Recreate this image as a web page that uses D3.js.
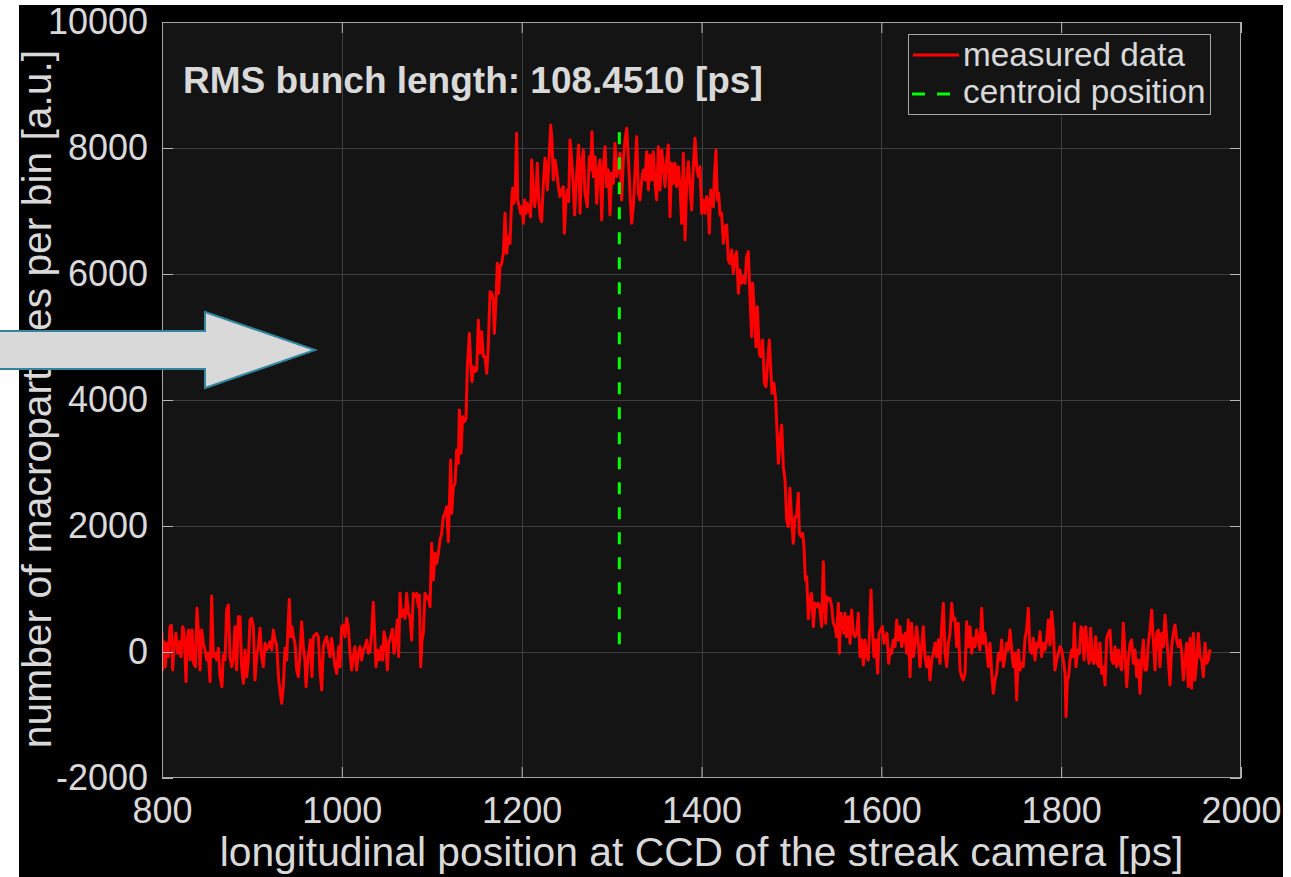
<!DOCTYPE html>
<html><head><meta charset="utf-8">
<script src="https://cdn.jsdelivr.net/npm/d3@7"></script>
<style>body{margin:0;background:#fff}svg{display:block}</style>
</head><body><svg id="c" width="1291" height="877"></svg>
<script>
// longitudinal position [ps]
const positionPs = [
800.0,800.7,802.2,803.7,805.2,807.0,808.9,810.4,811.9,813.3,815.6,817.4,819.3,821.1,823.0,824.5,826.7,828.2,829.7,831.5,
833.4,835.2,837.1,838.9,840.8,842.3,844.1,846.0,847.8,849.7,851.5,853.4,855.2,857.1,858.9,860.8,862.7,864.5,866.7,868.2,
870.1,871.9,873.8,875.6,877.5,879.3,881.2,883.0,884.9,886.8,888.6,890.5,892.3,894.2,896.0,897.9,899.7,901.6,903.4,905.3,
907.1,909.0,910.8,912.7,914.6,916.4,918.3,920.1,922.0,923.8,925.7,927.5,929.8,931.2,933.1,934.9,936.8,938.7,939.8,941.6,
943.1,944.6,946.1,947.9,949.8,951.6,953.5,955.3,957.2,959.0,960.2,961.6,963.1,965.0,966.8,968.3,970.2,972.0,973.9,975.7,
977.6,979.4,981.3,983.1,985.0,986.8,988.7,990.6,992.4,994.3,996.5,998.0,999.8,1001.7,1003.5,1005.4,1007.2,1009.1,1010.9,1012.8,
1014.6,1016.5,1018.4,1020.2,1022.1,1023.9,1025.8,1027.6,1029.5,1031.3,1033.2,1035.0,1036.1,1038.0,1039.5,1041.7,1043.6,1045.4,1046.9,1048.7,
1050.6,1052.1,1054.3,1056.2,1058.0,1059.9,1061.7,1063.2,
1064.7,1066.5,1068.4,1070.3,1072.1,1074.0,1075.8,1077.7,1079.5,1081.4,1083.2,1085.1,1086.2,1087.7,1089.2,1090.6,1092.5,1094.4,1096.2,1098.1,
1099.9,1101.8,1103.6,1105.5,1107.3,1109.2,1111.0,1112.9,1114.7,1116.6,1118.4,1119.6,1121.0,1122.2,1124.0,1125.9,1127.7,1129.6,1130.7,1132.5,
1134.4,1136.2,1138.1,
1139.6,1141.8,1143.3,1144.8,1146.2,1148.1,1150.0,1151.8,1153.7,1155.5,1157.4,1159.2,1161.1,1162.9,1164.8,1166.6,1168.5,1169.6,1171.5,1172.9,
1174.4,1175.9,1177.8,1179.6,1181.5,1183.3,1185.2,1187.0,1188.9,1190.0,1191.5,1192.6,1194.4,1195.6,1197.4,1198.9,1200.4,1201.9,1203.3,1204.8,
1206.3,1208.5,1210.0,1211.1,1213.0,1214.5,1215.9,1217.4,1218.9,1220.4,1222.2,1224.1,1226.0,1227.1,1228.5,1230.0,1232.3,1233.7,1235.2,1237.1,
1238.9,1240.8,1242.6,1244.5,1246.3,1247.5,1249.3,1250.8,1252.3,1253.8,1255.6,1257.5,1258.9,1261.2,1263.4,1264.9,1266.4,1268.6,1270.4,1273.0,
1275.3,1276.7,1278.2,1279.7,1281.6,1283.4,1285.3,1287.1,1289.0,1290.8,1292.7,1294.5,1296.4,1298.2,1300.1,1302.0,1303.8,1305.7,1309.4,1311.2,
1313.1,1314.9,1316.8,1318.6,1320.5,1322.3,1324.2,1326.0,1327.9,1329.8,1331.6,1333.5,1335.3,1337.2,1339.0,1340.9,1342.7,1344.6,1346.4,1348.3,
1350.1,1352.0,1353.9,1355.7,1357.6,1359.4,1361.3,1363.1,1365.0,1366.8,1368.7,1370.5,1372.4,1374.2,1376.1,1377.9,1379.8,1381.7,1383.5,1385.4,
1387.2,1389.1,1390.9,1392.8,1394.6,1396.5,1398.3,1400.2,1402.0,1403.9,1405.8,1407.6,1408.7,1410.2,1411.3,1413.2,1414.3,1416.1,1417.6,1419.1,
1420.6,1422.4,1424.3,1426.1,1428.0,1429.8,1431.7,1433.6,1435.4,1437.3,1439.1,1441.0,1442.8,1444.7,1446.5,1448.4,1450.2,1452.1,1453.9,1455.8,
1456.9,1458.4,1460.6,1462.1,1464.3,1465.8,1468.0,1469.9,1471.7,1473.2,1475.4,1476.9,1478.4,1480.6,1482.5,
1483.6,1485.5,1487.3,1489.2,1491.0,1492.9,1494.7,1496.6,1498.4,1500.3,1502.1,1504.0,1505.8,1507.7,1508.8,1510.7,1512.5,1514.0,1515.5,1517.0,
1518.8,1520.7,1522.5,1524.4,1526.2,1528.1,1529.9,1531.8,1533.6,1535.5,1536.6,1538.1,1539.2,1541.4,1542.9,1544.8,1546.6,1548.5,1550.3,1552.2,
1553.3,1555.1,1557.0,1558.5,1559.6,1561.4,1563.3,1565.2,1567.0,1568.9,1570.7,1572.6,1574.4,1576.3,1578.1,1580.0,1581.8,1583.7,1585.5,1587.4,
1588.5,1590.4,1591.8,1593.7,1595.9,1597.4,1599.3,1601.1,1603.0,1604.5,1606.3,1608.2,1609.6,1611.5,1613.3,1615.2,1617.1,1618.9,1620.8,1622.6,
1624.5,1626.3,1628.2,1630.0,1631.9,1633.7,1635.6,1637.4,1639.3,1641.2,1643.0,1644.9,1646.7,1648.6,1650.4,1652.3,1654.1,1656.0,1657.8,1659.7,
1661.5,1663.4,1665.2,
1667.1,1669.0,1670.8,1672.7,1674.5,1676.4,1678.2,1680.1,1681.9,1683.8,1685.6,1687.5,1689.3,1691.2,1693.1,1694.9,1696.8,1698.6,1700.5,1702.3,
1704.2,1706.0,1707.9,1709.7,1711.6,1713.4,1715.3,1717.2,1719.0,1720.9,1722.7,1724.6,1726.4,1728.3,1730.1,1732.0,1733.8,1735.7,1737.5,1739.4,
1741.2,1743.1,1745.0,1746.8,1748.7,1750.5,1752.4,1754.2,1756.1,1757.9,1759.8,1761.6,1763.5,1765.3,1767.2,1769.1,1770.9,1772.8,1774.6,1776.5,
1778.3,1780.2,1782.0,1783.9,1785.7,1787.6,1789.4,1791.3,1793.1,1795.0,1796.9,1798.7,1800.6,1802.4,1804.3,1805.4,1806.9,1808.3,1809.8,1811.7,
1813.5,1814.6,1816.5,1818.4,1820.2,1822.1,1823.9,1825.4,1827.2,1829.1,1831.0,1832.8,1834.7,1836.5,1838.4,1840.2,1842.1,1843.2,1845.0,1846.9,
1848.8,1850.6,1852.5,1854.3,1856.2,1858.0,1859.9,1861.7,1863.6,1865.4,1867.3,1869.1,1871.0,1872.9,1874.7,1876.6,1878.4,1880.3,1882.1,1884.0,
1885.8,1887.7,1889.5,1891.4,1893.2,1895.1,1896.9,1898.8,1900.7,1902.5,1904.4,1906.2,1908.1,1909.9,1911.8,1913.6,1915.5,1917.3,1919.2,1921.0,
1922.9,1924.7,1926.6,1928.5,1930.3,1932.2,1934.0,1935.9,1937.7,1939.6,1941.4,1943.3,1945.1,1947.0,1948.8,1950.7,1952.6,1954.4,1956.3,1958.1,
1960.0,1961.8,1963.7,1965.5
];
// number of macroparticles per bin [a.u.]
const counts = [
323,-286,164,-233,138,-74,402,428,-286,85,296,-21,164,-74,402,323,-471,190,349,-127,
349,-180,-233,693,243,-286,349,138,32,-127,-21,-471,889,-74,-21,-127,58,-392,-550,-48,
-127,667,746,-74,-233,-100,402,-286,561,561,-233,-497,32,-392,-127,508,534,402,-444,-74,
85,376,-74,-233,138,32,85,164,32,349,190,111,-444,-603,-815,-550,58,-127,296,836,
243,402,243,138,-286,-392,-21,481,85,-127,-550,-233,-21,190,-392,243,270,296,243,-286,
-603,85,190,243,85,-74,217,-21,-233,-339,85,-233,402,428,243,534,402,-21,-286,-74,
85,-286,-21,85,-127,32,85,190,-21,5,323,788,402,-233,32,-127,85,-127,323,190,
-286,138,243,360,-21,190,508,-74,
931,561,667,534,931,614,561,190,931,878,931,720,905,-233,190,296,931,852,878,720,
1725,1143,1566,1407,1566,1778,1884,2148,2201,2307,1751,2307,3048,2201,2624,2677,3206,2995,3841,3153,
3735,3656,3700,
4529,5058,4582,4291,4529,4450,4476,5270,4741,5085,4688,4688,4423,4847,5720,5693,5587,5058,5587,6169,
5693,6116,6169,6328,6963,6328,6593,6487,7175,7360,7122,7228,8233,7175,7069,6963,7069,6804,7175,6963,
7122,7016,6910,7810,7281,7069,7281,7757,7228,6910,6831,7439,7836,7704,7333,7704,8365,8127,7492,7810,
7651,7386,7228,7333,7386,6646,7175,7333,7148,8127,7810,7386,6937,7598,8048,6963,7704,7968,7281,7069,
7862,7651,8259,7545,7862,7122,7651,7810,6857,7704,8021,7386,7651,6937,7598,7439,8074,7545,7915,7175,
7810,8127,8312,7862,7281,6804,7069,7598,8180,7281,7175,7492,7651,7492,7942,7333,7889,7492,7942,7439,
7175,8021,7333,7968,7704,7386,7810,8048,6910,7757,7439,7757,7386,7704,7386,6804,7915,6540,7439,7783,
7386,7016,7704,8153,7704,7545,7704,6963,7175,6963,7228,7069,6646,7333,7175,7069,7545,7968,7175,7281,
6937,6963,6487,6752,6778,6222,6169,6381,6011,6275,6355,5693,6063,5852,5958,5852,6275,6355,5640,5005,
5852,5482,4847,5482,4741,4688,4952,4265,4212,4529,4952,4529,4106,4265,4000,
3630,2995,3365,3603,2942,2730,2095,1989,2598,2095,1725,2148,2148,2519,1884,1831,1884,1672,1143,1196,
529,825,931,402,773,720,773,667,402,1434,825,455,878,825,852,720,455,402,243,773,
-21,614,455,296,614,243,561,138,667,296,243,296,614,-74,190,-206,190,-74,-127,508,
984,296,-74,190,-339,296,349,402,138,243,296,-180,32,-21,190,85,508,190,402,85,
243,296,-21,508,-392,455,-74,138,402,138,-233,85,402,-74,-233,-74,-444,-127,-21,138,
-74,190,-180,
402,772,-21,-233,138,296,772,508,534,85,455,-286,-392,-444,-339,481,85,402,-21,217,
85,349,190,32,693,138,296,32,-233,138,-339,-656,-444,-339,-21,-127,190,-233,-74,138,
32,349,32,-233,-21,-762,32,-286,-180,-233,217,349,693,32,-21,217,-127,138,85,323,
-74,138,32,190,508,111,640,349,-286,-127,-21,85,32,-127,-339,-1026,-444,-392,-127,32,
-74,455,-233,32,-21,402,349,-127,402,85,-180,376,-127,-180,243,-180,-233,138,-339,-233,
-524,217,296,349,-127,-180,85,-233,32,-180,-286,455,-21,-550,-127,138,190,-180,32,-392,
-127,-656,-127,190,-286,-286,138,349,667,190,-286,296,349,-233,296,85,587,243,-127,-524,
85,296,428,190,85,190,5,-444,-127,138,-550,217,-576,296,-444,-127,296,-74,-127,-392,
138,-180,-127,42
];
const xTicks = [800, 1000, 1200, 1400, 1600, 1800, 2000];
const yTicks = [-2000, 0, 2000, 4000, 6000, 8000, 10000];
const xDomain = [800, 2000];
const yDomain = [-2000, 10000];
const centroidPs = 1308.6;
const centroidTop = 8250;
const titleText = "RMS bunch length: 108.4510 [ps]";
const legendLabels = ["measured data", "centroid position"];
const xLabel = "longitudinal position at CCD of the streak camera [ps]";
const yLabel = "number of macroparticles per bin [a.u.]";
// annotation arrow outline, in data units (ps, counts)
const arrowPs = [608.7, 847.8, 847.8, 970.2, 847.8, 847.8, 608.7];
const arrowCounts = [5095, 5095, 5397, 4794, 4190, 4492, 4492];

const svg = d3.select("#c");
const W = 1291, H = 877;
const L = 162, T = 22, PW = 1079, PH = 756;
const FONT = "'Liberation Sans', Arial, Helvetica, sans-serif";
const textCol = "#d9d9d9";

svg.append("rect").attr("x", 0).attr("y", 0).attr("width", W).attr("height", H).attr("fill", "#fff");
svg.append("rect").attr("x", 19).attr("y", 5).attr("width", 1264).attr("height", 872).attr("fill", "#000");

const x = d3.scaleLinear().domain(xDomain).range([L, L + PW]);
const y = d3.scaleLinear().domain(yDomain).range([T + PH, T]);

svg.append("rect").attr("x", L).attr("y", T).attr("width", PW).attr("height", PH).attr("fill", "#141414");

svg.append("defs").append("clipPath").attr("id", "clip")
  .append("rect").attr("x", L).attr("y", T).attr("width", PW).attr("height", PH);

// grid
const grid = svg.append("g").attr("stroke", "#3e3e3e").attr("stroke-width", 1);
grid.selectAll(".gx").data(xTicks.slice(1, -1)).join("line")
  .attr("x1", d => Math.round(x(d)) + 0.5).attr("x2", d => Math.round(x(d)) + 0.5)
  .attr("y1", T).attr("y2", T + PH);
grid.selectAll(".gy").data(yTicks.slice(1, -1)).join("line")
  .attr("y1", d => Math.round(y(d)) + 0.5).attr("y2", d => Math.round(y(d)) + 0.5)
  .attr("x1", L).attr("x2", L + PW);

// data
const pts = positionPs.map((p, i) => [p, counts[i]]);
const line = d3.line().x(d => x(d[0])).y(d => y(d[1]));
svg.append("path").datum(pts).attr("clip-path", "url(#clip)")
  .attr("d", line).attr("fill", "none").attr("stroke", "#ff0000")
  .attr("stroke-width", 3).attr("stroke-linejoin", "round");

// centroid
svg.append("line")
  .attr("x1", x(centroidPs)).attr("x2", x(centroidPs))
  .attr("y1", y(centroidTop)).attr("y2", y(0))
  .attr("stroke", "#00ff00").attr("stroke-width", 3).attr("stroke-dasharray", "12,13");

// axes (ticks inside)
const fmt = d => String(d);
function styleAxis(g) {
  g.select(".domain").remove();
  g.selectAll(".tick line").attr("stroke", "#b8b8b8").attr("stroke-width", 1);
  g.selectAll(".tick text").attr("fill", textCol).attr("font-family", FONT).attr("font-size", 36);
}
svg.append("g").attr("transform", `translate(0,${T + PH})`)
  .call(d3.axisBottom(x).tickValues(xTicks).tickFormat(fmt).tickSize(-11).tickPadding(19)).call(styleAxis);
svg.append("g").attr("transform", `translate(${L},0)`)
  .call(d3.axisLeft(y).tickValues(yTicks).tickFormat(fmt).tickSize(-11).tickPadding(14)).call(styleAxis);
svg.append("g").attr("transform", `translate(0,${T})`)
  .call(d3.axisTop(x).tickValues(xTicks).tickFormat("").tickSize(-11)).call(styleAxis);
svg.append("g").attr("transform", `translate(${L + PW},0)`)
  .call(d3.axisRight(y).tickValues(yTicks).tickFormat("").tickSize(-11)).call(styleAxis);

// box
svg.append("rect").attr("x", L + 0.5).attr("y", T + 0.5).attr("width", PW - 1).attr("height", PH - 1)
  .attr("fill", "none").attr("stroke", "#a6a6a6").attr("stroke-width", 1);

// title annotation
svg.append("text").attr("x", 183).attr("y", 93).text(titleText)
  .attr("fill", textCol).attr("font-family", FONT).attr("font-size", 37).attr("font-weight", "bold");

// legend
const lg = svg.append("g");
lg.append("rect").attr("x", 908.5).attr("y", 34.5).attr("width", 302).attr("height", 80)
  .attr("fill", "#141414").attr("stroke", "#a6a6a6").attr("stroke-width", 1);
lg.append("line").attr("x1", 913).attr("x2", 959).attr("y1", 55).attr("y2", 55)
  .attr("stroke", "#ff0000").attr("stroke-width", 3);
lg.append("line").attr("x1", 912).attr("x2", 950).attr("y1", 94).attr("y2", 94)
  .attr("stroke", "#00ff00").attr("stroke-width", 3).attr("stroke-dasharray", "13,12");
lg.selectAll("text").data(legendLabels).join("text")
  .attr("x", 963).attr("y", (d, i) => 66 + i * 37).text(d => d)
  .attr("fill", textCol).attr("font-family", FONT).attr("font-size", 33.3);

// axis labels
svg.append("text").attr("x", L + PW / 2).attr("y", 866).attr("text-anchor", "middle").text(xLabel)
  .attr("fill", textCol).attr("font-family", FONT).attr("font-size", 40.8);
svg.append("text").attr("transform", `translate(51,${T + PH / 2 - 1}) rotate(-90)`)
  .attr("text-anchor", "middle").text(yLabel)
  .attr("fill", textCol).attr("font-family", FONT).attr("font-size", 40.8);

// arrow annotation
const arrowPts = arrowPs.map((p, i) => [x(p), y(arrowCounts[i])]);
svg.append("polygon").attr("points", arrowPts.map(d => d.join(",")).join(" "))
  .attr("fill", "#d9d9d9").attr("stroke", "#31859c").attr("stroke-width", 2);
</script></body></html>
